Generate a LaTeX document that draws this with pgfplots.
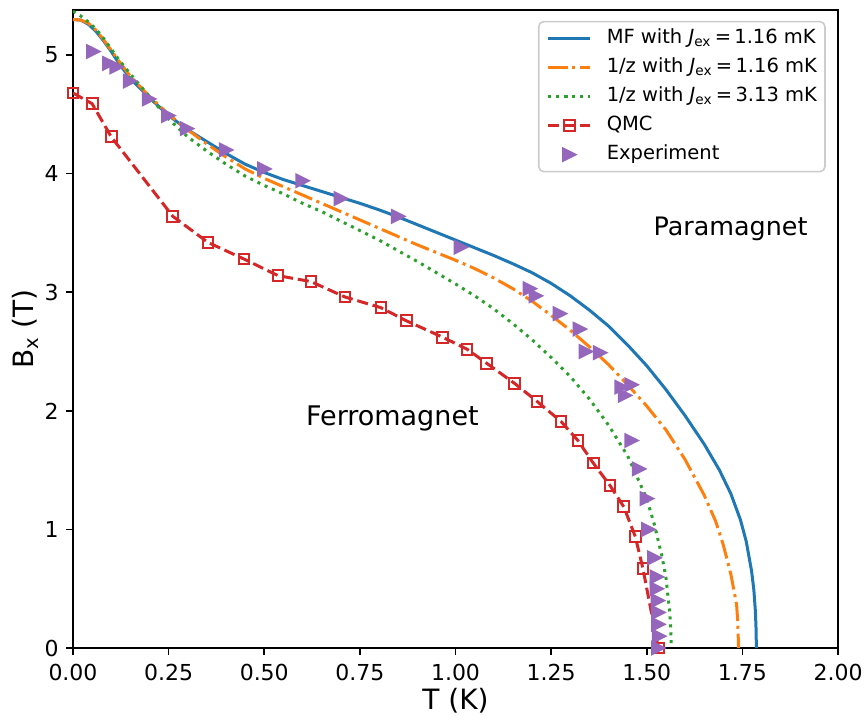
\documentclass[border=0pt]{standalone}
\usepackage{fontspec}
\setmainfont{DejaVu Sans}
\usepackage{pgfplots}
\pgfplotsset{compat=1.18}
\definecolor{tabblue}{HTML}{1F77B4}
\definecolor{taborange}{HTML}{FF7F0E}
\definecolor{tabgreen}{HTML}{2CA02C}
\definecolor{tabred}{HTML}{D62728}
\definecolor{tabpurple}{HTML}{9467BD}
\pgfdeclareplotmark{rtri}{%
  \pgfpathmoveto{\pgfqpoint{\pgfplotmarksize}{0pt}}%
  \pgfpathlineto{\pgfqpoint{-\pgfplotmarksize}{\pgfplotmarksize}}%
  \pgfpathlineto{\pgfqpoint{-\pgfplotmarksize}{-\pgfplotmarksize}}%
  \pgfpathclose\pgfusepathqfillstroke}
\pgfplotsset{
  linelegend/.style={legend image code/.code={\draw[##1, mark repeat=2, mark phase=2, fill opacity=1] plot coordinates {(0pt,0pt) (10.5pt,0pt) (21pt,0pt)}; \path (28.5pt,0pt);}},
  marklegend/.style={legend image code/.code={\draw[##1, fill opacity=1] plot coordinates {(10.5pt,0pt)}; \path (0pt,0pt) (28.5pt,0pt);}},
}
\begin{document}
\begin{tikzpicture}
\begin{axis}[
  scale only axis, width=382.5pt, height=319pt,
  xmin=0, xmax=2, ymin=0, ymax=5.38,
  xtick={0,0.25,0.5,0.75,1,1.25,1.5,1.75,2},
  xticklabels={0.00,0.25,0.50,0.75,1.00,1.25,1.50,1.75,2.00},
  ytick={0,1,2,3,4,5}, yticklabels={0,1,2,3,4,5},
  tick align=outside, xtick pos=left, ytick pos=left,
  major tick length=3.5pt,
  tick style={black, line width=0.8pt},
  axis line style={line width=0.8pt},
  ticklabel style={font=\fontsize{11}{13}\selectfont},
  xticklabel style={inner sep=0pt, anchor=north, yshift=-4.5pt},
  yticklabel style={inner sep=0pt, anchor=east, xshift=-3.5pt},
  xlabel={T (K)}, ylabel={B\textsubscript{x} (T)},
  xlabel style={at={(rel axis cs:0.5,0)}, anchor=base, yshift=-30.5pt, font=\fontsize{14}{16}\selectfont},
  ylabel style={at={(rel axis cs:-0.051,0.5)}, anchor=base, font=\fontsize{14}{16}\selectfont},
  legend cell align=left,
  legend style={at={(rel axis cs:0.984,0.983)}, anchor=north east,
    draw=black!20, line width=0.8pt, rounded corners=2.5pt,
    fill=white, fill opacity=0.8, text opacity=1,
    font=\fontsize{9.75}{11}\selectfont,
    inner xsep=4pt, inner ysep=3.5pt, row sep=4.5pt,
    nodes={inner sep=0pt, text height=7.5pt, text depth=2.5pt}},
  linelegend,
]
\addplot[tabblue, line width=1.5pt, no marks] coordinates {
(0,5.30)(0.02,5.295)(0.04,5.26)(0.06,5.20)(0.08,5.12)(0.10,5.03)(0.12,4.93)(0.15,4.80)(0.175,4.72)(0.20,4.64)(0.25,4.49)(0.30,4.37)(0.35,4.27)(0.40,4.17)(0.45,4.08)(0.50,4.01)(0.55,3.95)(0.60,3.90)(0.65,3.85)(0.70,3.80)(0.75,3.75)(0.80,3.695)(0.85,3.635)(0.90,3.57)(0.95,3.505)(1.00,3.44)(1.05,3.375)(1.10,3.31)(1.15,3.24)(1.20,3.165)(1.25,3.075)(1.30,2.97)(1.35,2.85)(1.40,2.715)(1.45,2.555)(1.50,2.38)(1.55,2.18)(1.60,1.96)(1.65,1.72)(1.69,1.50)(1.72,1.30)(1.745,1.08)(1.76,0.90)(1.774,0.65)(1.78,0.49)(1.784,0.31)(1.786,0.14)(1.7865,0)};
\addlegendentry{MF with \textit{J}\textsubscript{ex}\,=\,1.16 mK}
\addplot[taborange, line width=1.5pt, no marks, dash pattern=on 9.6pt off 2.4pt on 1.5pt off 2.4pt] coordinates {
(0,5.30)(0.02,5.295)(0.04,5.27)(0.06,5.21)(0.08,5.13)(0.10,5.04)(0.12,4.95)(0.15,4.82)(0.20,4.65)(0.25,4.50)(0.30,4.37)(0.35,4.25)(0.40,4.14)(0.45,4.04)(0.50,3.96)(0.55,3.89)(0.60,3.82)(0.65,3.75)(0.70,3.68)(0.75,3.61)(0.80,3.54)(0.85,3.47)(0.90,3.40)(0.95,3.335)(1.00,3.27)(1.05,3.20)(1.10,3.12)(1.15,3.03)(1.20,2.925)(1.25,2.805)(1.30,2.68)(1.35,2.54)(1.40,2.39)(1.45,2.22)(1.50,2.04)(1.55,1.84)(1.60,1.59)(1.65,1.29)(1.68,1.07)(1.70,0.87)(1.72,0.62)(1.73,0.45)(1.735,0.36)(1.738,0.22)(1.74,0)};
\addlegendentry{1/z with \textit{J}\textsubscript{ex}\,=\,1.16 mK}
\addplot[tabgreen, line width=1.5pt, no marks, dash pattern=on 1.5pt off 2.475pt] coordinates {
(0,5.37)(0.02,5.33)(0.04,5.28)(0.06,5.22)(0.08,5.14)(0.10,5.05)(0.12,4.96)(0.15,4.84)(0.20,4.65)(0.25,4.46)(0.30,4.31)(0.35,4.19)(0.40,4.08)(0.45,3.98)(0.50,3.90)(0.55,3.83)(0.60,3.75)(0.65,3.68)(0.70,3.60)(0.75,3.52)(0.80,3.44)(0.85,3.35)(0.90,3.26)(0.95,3.165)(1.00,3.07)(1.05,2.97)(1.10,2.86)(1.15,2.735)(1.20,2.60)(1.25,2.45)(1.30,2.29)(1.35,2.10)(1.40,1.88)(1.45,1.62)(1.50,1.26)(1.52,1.04)(1.54,0.77)(1.55,0.60)(1.56,0.30)(1.563,0.15)(1.564,0)};
\addlegendentry{1/z with \textit{J}\textsubscript{ex}\,=\,3.13 mK}
\addplot[tabred, line width=1.5pt, dash pattern=on 5.55pt off 2.4pt, mark=square, mark size=2.7pt, mark options={solid, line width=1pt, fill=none}] coordinates {
(0.000,4.68)(0.050,4.59)(0.100,4.31)(0.261,3.64)(0.353,3.42)(0.447,3.28)(0.536,3.14)(0.622,3.09)(0.711,2.96)(0.805,2.87)(0.871,2.76)(0.967,2.62)(1.030,2.52)(1.082,2.40)(1.155,2.23)(1.213,2.08)(1.276,1.91)(1.320,1.75)(1.360,1.56)(1.404,1.37)(1.440,1.19)(1.470,0.94)(1.490,0.67)(1.530,0.00)};
\addlegendentry{QMC}
\addplot[only marks, mark=rtri, mark size=3.1pt, mark options={fill=tabpurple, draw=tabpurple, line width=1pt}, marklegend] coordinates {
(0.053,5.03)(0.095,4.93)(0.114,4.90)(0.149,4.78)(0.199,4.63)(0.249,4.49)(0.298,4.38)(0.400,4.20)(0.500,4.04)(0.600,3.94)(0.700,3.79)(0.850,3.64)(1.014,3.38)(1.194,3.03)(1.210,2.97)(1.273,2.82)(1.325,2.69)(1.341,2.50)(1.378,2.49)(1.434,2.20)(1.460,2.22)(1.443,2.13)(1.460,1.75)(1.480,1.51)(1.500,1.26)(1.504,1.00)(1.520,0.76)(1.526,0.60)(1.526,0.50)(1.529,0.40)(1.530,0.30)(1.530,0.20)(1.532,0.10)(1.530,0.00)};
\addlegendentry{Experiment}
\node[font=\fontsize{13.5}{16}\selectfont, anchor=base] at (axis cs:0.835,1.88) {Ferromagnet};
\node[font=\fontsize{12.7}{15}\selectfont, anchor=base] at (axis cs:1.719,3.48) {Paramagnet};
\coordinate (bl) at (rel axis cs:0,0);
\coordinate (tr) at (rel axis cs:1,1);
\end{axis}
\pgfresetboundingbox
\useasboundingbox ([shift={(-36.5pt,-33.5pt)}]bl) rectangle ([shift={(13.5pt,5pt)}]tr);
\end{tikzpicture}
\end{document}
